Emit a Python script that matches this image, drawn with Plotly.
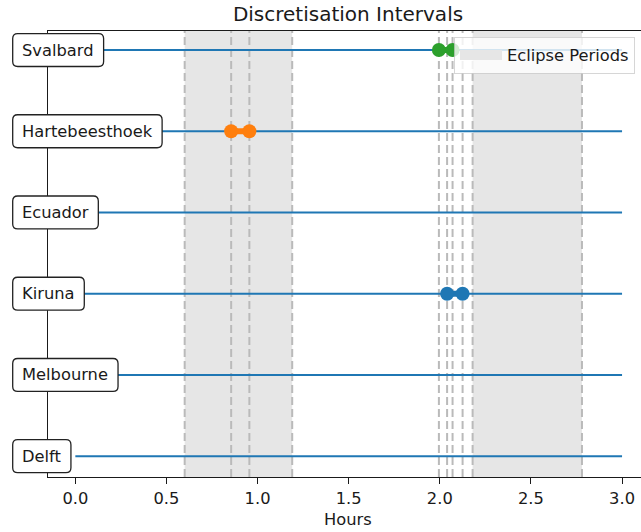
import plotly.graph_objects as go

# ---------------- data ----------------
stations = ["Delft", "Melbourne", "Kiruna", "Ecuador", "Hartebeesthoek", "Svalbard"]
station_y = [0, 1, 2, 3, 4, 5]
t_start = 0.0
t_end = 3.0
eclipse_starts = [0.60, 2.18]
eclipse_ends = [1.19, 2.78]
point_stations = ["Kiruna", "Hartebeesthoek", "Svalbard"]
point_times = [[2.04, 2.125], [0.855, 0.955], [1.995, 2.07]]
point_colors = ["#1f77b4", "#ff7f0e", "#2ca02c"]
x_ticks = [0.0, 0.5, 1.0, 1.5, 2.0, 2.5, 3.0]
x_tick_labels = ["0.0", "0.5", "1.0", "1.5", "2.0", "2.5", "3.0"]

# ---------------- layout geometry ----------------
W, H = 641, 532
ML, MR, MT, MB = 48, 0, 31, 54.5
PW, PH = W - ML - MR, H - MT - MB
xr = [-0.150, 3.104]
yr = [-0.256, 5.234]
FONT = "DejaVu Sans"
FS = 16.3

def px_x(v):
    return ML + (v - xr[0]) / (xr[1] - xr[0]) * PW

def px_y(v):
    return MT + (yr[1] - v) / (yr[1] - yr[0]) * PH

def paper_x(p):
    return (p - ML) / PW

def paper_y(p):
    return (MT + PH - p) / PH

# DejaVu Sans advance widths (em)
CW = {"S": .635, "v": .592, "a": .613, "l": .278, "b": .635, "r": .411, "d": .635,
      "H": .752, "t": .392, "e": .615, "s": .521, "h": .634, "o": .612, "k": .579,
      "E": .632, "c": .550, "u": .634, "K": .656, "i": .278, "n": .634, "M": .863,
      "D": .770, "f": .352}

def text_w(s, size):
    return sum(CW.get(ch, 0.6) for ch in s) * size

fig = go.Figure()

# eclipse shading
y_full = [yr[0], yr[0], yr[1], yr[1], yr[0]]
for s, e in zip(eclipse_starts, eclipse_ends):
    fig.add_trace(go.Scatter(x=[s, e, e, s, s], y=y_full, fill="toself",
                             fillcolor="#e6e6e6", line=dict(width=0), mode="lines",
                             showlegend=False, hoverinfo="skip"))

# dashed boundaries
bounds = sorted(eclipse_starts + eclipse_ends + [t for ts in point_times for t in ts])
for b in bounds:
    fig.add_trace(go.Scatter(x=[b, b], y=[yr[0], yr[1]], mode="lines",
                             line=dict(color="#bababa", width=2, dash="8px,4px"),
                             showlegend=False, hoverinfo="skip"))

# station timelines
for name, yv in zip(stations, station_y):
    fig.add_trace(go.Scatter(x=[t_start, t_end], y=[yv, yv], mode="lines",
                             line=dict(color="#1f77b4", width=2),
                             showlegend=False, hoverinfo="skip"))

# discretisation points
for name, ts, col in zip(point_stations, point_times, point_colors):
    yv = station_y[stations.index(name)]
    fig.add_trace(go.Scatter(x=ts, y=[yv] * len(ts), mode="lines+markers",
                             line=dict(color=col, width=6),
                             marker=dict(color=col, size=14),
                             showlegend=False, hoverinfo="skip"))

# legend entry
fig.add_trace(go.Scatter(x=[None], y=[None], mode="lines", name="Eclipse Periods",
                         line=dict(color="#e6e6e6", width=12.6)))

# station label boxes
shapes = []
annotations = []
box_left = 12.7
text_left = 21.7
r = 5
for name, yv in zip(stations, station_y):
    cy = px_y(yv)
    x0, x1 = box_left, text_left + text_w(name, FS) + 10
    y0, y1 = cy - 16.5, cy + 16.5
    pts = [
        ("M", x0 + r, y0), ("L", x1 - r, y0), ("Q", x1, y0, x1, y0 + r),
        ("L", x1, y1 - r), ("Q", x1, y1, x1 - r, y1), ("L", x0 + r, y1),
        ("Q", x0, y1, x0, y1 - r), ("L", x0, y0 + r), ("Q", x0, y0, x0 + r, y0),
    ]
    path = ""
    for p in pts:
        cmd = p[0]
        coords = p[1:]
        segs = []
        for i in range(0, len(coords), 2):
            segs.append(f"{paper_x(coords[i]):.5f},{paper_y(coords[i+1]):.5f}")
        path += cmd + " ".join(segs) + " "
    path += "Z"
    shapes.append(dict(type="path", path=path, xref="paper", yref="paper",
                       fillcolor="white", line=dict(color="#222222", width=1.3),
                       layer="above"))
    annotations.append(dict(text=name, x=paper_x(text_left - 1.5), y=paper_y(cy),
                            xref="paper", yref="paper", xanchor="left", yanchor="middle",
                            showarrow=False, font=dict(family=FONT, size=FS, color="#1a1a1a")))

annotations.append(dict(text="Hours", x=paper_x(348), y=paper_y(520), xref="paper", yref="paper",
                        xanchor="center", yanchor="middle", showarrow=False,
                        font=dict(family=FONT, size=FS, color="#1a1a1a")))

fig.update_layout(
    width=W, height=H,
    margin=dict(l=ML, r=MR, t=MT, b=MB, pad=0),
    plot_bgcolor="white", paper_bgcolor="white",
    font=dict(family=FONT, size=FS, color="#1a1a1a"),
    title=dict(text="Discretisation Intervals", x=paper_x(348), xref="paper", xanchor="center",
               y=1 - 13.5 / H, yref="container", yanchor="middle",
               font=dict(family=FONT, size=20, color="#1a1a1a")),
    xaxis=dict(range=xr, tickvals=x_ticks, ticktext=x_tick_labels, showgrid=False,
               zeroline=False, showline=True, linecolor="#1a1a1a", linewidth=1.3,
               mirror=True, ticks="outside", ticklen=6, tickwidth=1.3, tickcolor="#1a1a1a",
               tickfont=dict(family=FONT, size=FS, color="#1a1a1a")),
    yaxis=dict(range=yr, showticklabels=False, showgrid=False, zeroline=False,
               showline=True, linecolor="#1a1a1a", linewidth=1.3, ticks=""),
    legend=dict(x=paper_x(454), y=paper_y(37), xanchor="left", yanchor="top",
                bgcolor="rgba(255,255,255,0.8)", bordercolor="rgba(204,204,204,0.8)",
                borderwidth=1, itemwidth=42,
                font=dict(family=FONT, size=FS, color="#1a1a1a")),
    shapes=shapes,
    annotations=annotations,
)

fig.write_html("out.html")
